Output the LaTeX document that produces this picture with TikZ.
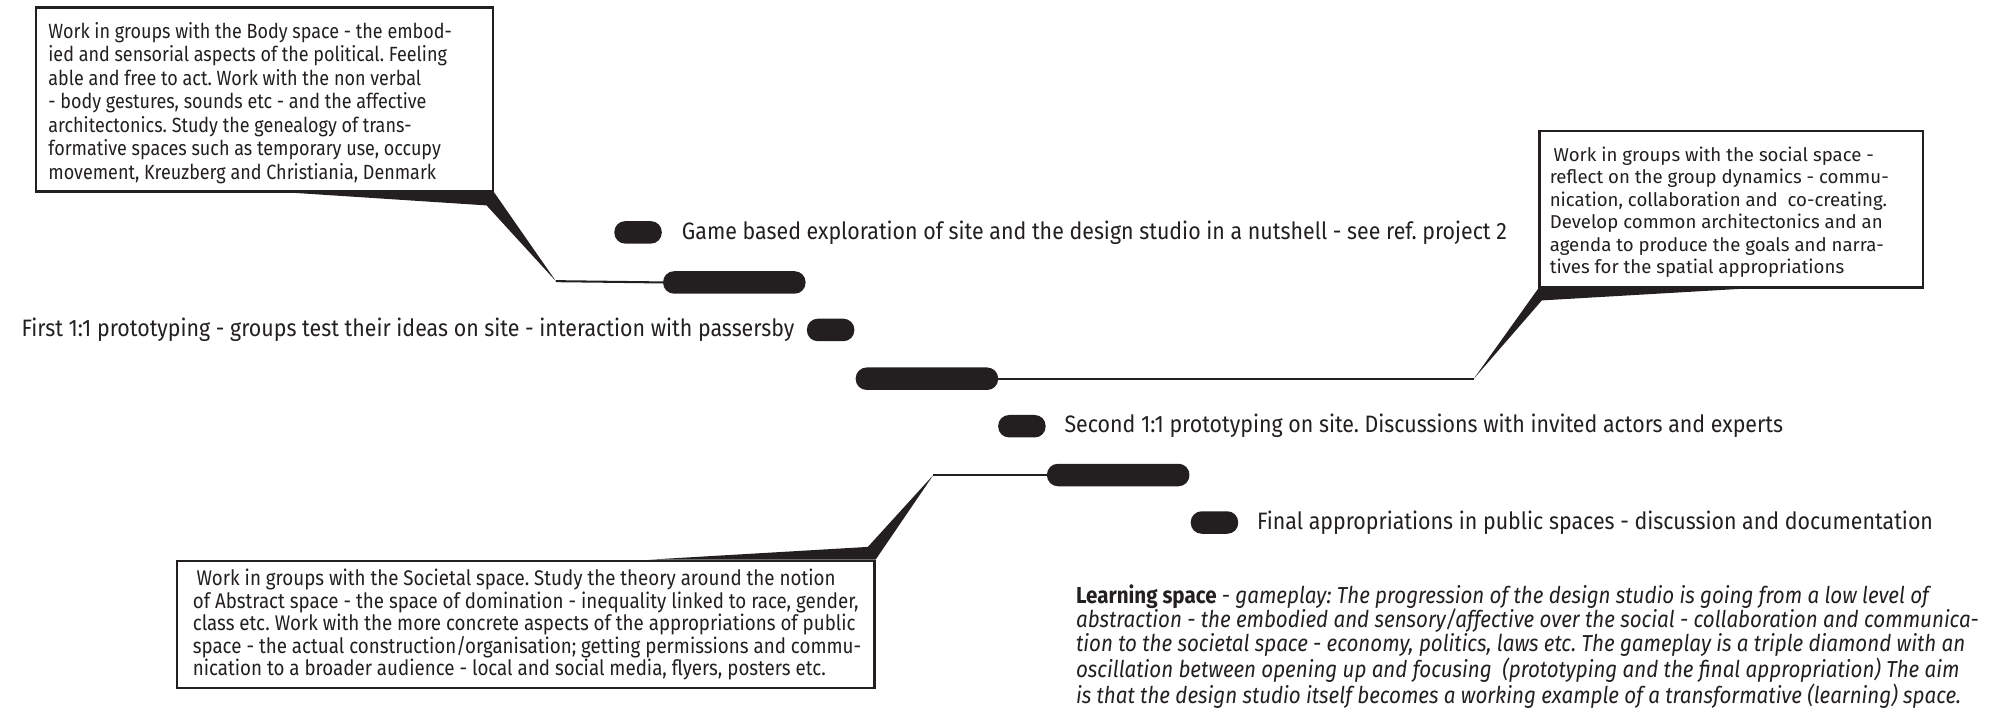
\documentclass[tikz,border=0pt]{standalone}
\usepackage{fontspec}
\setmainfont{Fira Sans}
\newfontfamily\condA[FakeStretch=0.875]{Fira Sans}
\newfontfamily\condC[FakeStretch=0.885]{Fira Sans}
\newfontfamily\condT[FakeStretch=0.9]{Fira Sans}
\newfontfamily\condL[FakeStretch=0.89]{Fira Sans}
\newfontfamily\wide{Fira Sans}
\definecolor{ink}{HTML}{231F20}
\frenchspacing
\begin{document}
\begin{tikzpicture}[x=1pt,y=-1pt,
 callout/.style={draw=ink, line width=2pt, fill=white, inner sep=0pt},
 boxtext/.style={anchor=north west, inner sep=0pt, align=left, text=ink},
 pill/.style={fill=ink, rounded corners=8.5pt, minimum width=37pt, minimum height=17.5pt, inner sep=0pt},
 bar/.style={pill, minimum width=111pt},
 link/.style={draw=ink, line width=1.6pt},
 label/.style={inner sep=0pt, text=ink, font=\condT\fontsize{18.5}{20}\selectfont}
]
\useasboundingbox (0,0) rectangle (1568,555);

% --- timeline pills and bars
\node[pill] (p1) at (497,181) {};
\node[bar] (bar1) at (572,220) {};
\node[pill] (p2) at (647,257) {};
\node[bar] (bar2) at (722,295) {};
\node[pill] (p3) at (796,332) {};
\node[bar] (bar3) at (871,370) {};
\node[pill] (p4) at (946,407) {};

\node[label, anchor=west] (l1) at (531,181) {Game based exploration of site and the design studio in a nutshell - see ref. project 2};
\node[label, anchor=east] (l2) at (619,257) {First 1:1 prototyping - groups test their ideas on site - interaction with passersby};
\node[label, anchor=west] (l3) at (829,332) {Second 1:1 prototyping on site. Discussions with invited actors and experts};
\node[label, anchor=west] (l4) at (979,407) {Final appropriations in public spaces - discussion and documentation};

% --- callout A (body space)
\coordinate (tA) at (433,219);
\node[callout, anchor=north west, minimum width=356pt, minimum height=143pt] (boxA) at (27,5) {};
\fill[ink] (195,148) -- (boxA.south east) -- (tA) -- (379,160) -- cycle;
\draw[link] (tA) -- (bar1.west);
\node[boxtext, font=\condA\fontsize{16}{18.3}\selectfont] (txtA) at (37.5,17) {Work in groups with the Body space - the embod-\\ied and sensorial aspects of the political. Feeling\\able and free to act. Work with the non verbal\\- body gestures, sounds etc - and the affective\\architectonics. Study the genealogy of trans-\\formative spaces such as temporary use, occupy\\movement, Kreuzberg and Christiania, Denmark};

% --- callout B (social space)
\coordinate (tB) at (1148,295);
\node[callout, anchor=north west, minimum width=299pt, minimum height=122pt] (boxB) at (1198,101) {};
\fill[ink] (tB) -- (boxB.south west) -- (1390,223) -- (1201,234) -- cycle;
\draw[link] (bar2.east) -- (tB);
\node[boxtext, font=\wide\fontsize{14.5}{17.5}\selectfont] (txtB) at (1207,114) {\hspace{3pt}Work in groups with the social space -\\reflect on the group dynamics - commu-\\nication, collaboration and\ \ co-creating.\\Develop common architectonics and an\\agenda to produce the goals and narra-\\tives for the spatial appropriations};

% --- callout C (societal space)
\coordinate (tC) at (727,370);
\node[callout, anchor=north west, minimum width=543pt, minimum height=99pt] (boxC) at (137,436) {};
\fill[ink] (tC) -- (boxC.north east) -- (505,436) -- (676,426) -- cycle;
\draw[link] (bar3.west) -- (tC);
\node[boxtext, font=\condC\fontsize{16.5}{17.6}\selectfont] (txtC) at (150,443) {\hspace{3pt}Work in groups with the Societal space. Study the theory around the notion\\of Abstract space - the space of domination - inequality linked to race, gender,\\class etc. Work with the more concrete aspects of the appropriations of public\\space - the actual construction/organisation; getting permissions and commu-\\nication to a broader audience - local and social media, flyers, posters etc.};

% --- learning space
\node[boxtext, font=\condL\itshape\fontsize{18}{18.8}\selectfont] (learn) at (838,455) {{\upshape\bfseries Learning space} - gameplay: The progression of the design studio is going from a low level of\\abstraction - the embodied and sensory/affective over the social - collaboration and communica-\\tion to the societal space - economy, politics, laws etc. The gameplay is a triple diamond with an\\oscillation between opening up and focusing\ \ (prototyping and the final appropriation) The aim\\is that the design studio itself becomes a working example of a transformative (learning) space.};
\end{tikzpicture}
\end{document}
